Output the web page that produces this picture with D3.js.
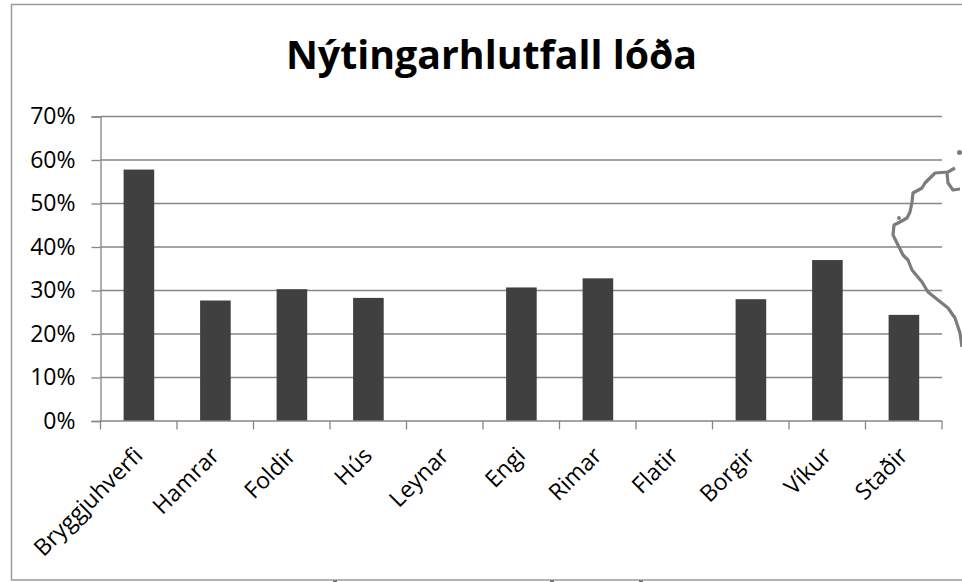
<!DOCTYPE html>
<html>
<head>
<meta charset="utf-8">
<script src="https://cdn.jsdelivr.net/npm/d3@7"></script>
<style>
html, body { margin: 0; padding: 0; background: #fff; overflow: hidden; }
text { font-family: "Open Sans", sans-serif; fill: #000; }
</style>
</head>
<body>
<svg id="chart" width="962" height="582"></svg>
<script>
var categories = ['Bryggjuhverfi', 'Hamrar', 'Foldir', 'Hús', 'Leynar', 'Engi', 'Rimar', 'Flatir', 'Borgir', 'Víkur', 'Staðir']
var values = [0.578, 0.277, 0.303, 0.283, 0, 0.307, 0.328, 0, 0.28, 0.37, 0.244]
var yTicks = [0, 0.1, 0.2, 0.3, 0.4, 0.5, 0.6, 0.7]
var title = 'Nýtingarhlutfall lóða'

// stray map outline showing through on the right of the original, in page pixels
var coast = [[955, 168], [948, 172], [935, 173], [930, 178], [925, 183], [922, 188], [913, 193], [912, 202],
    [910, 212], [907, 218], [900, 222], [894, 225], [893, 235], [898, 245], [903, 255], [908, 260], [912, 270],
    [922, 282], [928, 292], [938, 300], [948, 308], [955, 318], [960, 333], [962, 347]]
var coast2 = [[947, 173], [948, 183], [953, 190], [960, 189]]
// clipped bits of text under the frame
var strayBits = [333, 550, 639]

var grey = '#868686'
var svg = d3.select('#chart')

var x = d3.scaleBand().domain(categories).range([100.5, 942])
var y = d3.scaleLinear().domain([0, 0.7]).range([421, 116.5])

// chart frame, runs off the right edge
svg.append('rect').attr('x', 11.5).attr('y', 4.5).attr('width', 980).attr('height', 575.5)
    .style('fill', '#fff').style('stroke', '#9a9a9a').style('stroke-width', 1.5)

svg.append('text').attr('x', 491.5).attr('y', 68.5).attr('text-anchor', 'middle')
    .style('font-size', '39.3px').style('font-weight', 'bold').text(title)

// gridlines
svg.append('g').selectAll('line').data(yTicks.slice(1)).enter().append('line')
    .attr('x1', 100.5).attr('x2', 942)
    .attr('y1', d => y(d)).attr('y2', d => y(d))
    .style('stroke', grey).style('stroke-width', 1.3)

var yAxis = svg.append('g').attr('transform', 'translate(100.5,0)')
    .call(d3.axisLeft(y).tickValues(yTicks).tickFormat(d3.format('.0%')).tickSize(9).tickPadding(16))
yAxis.select('.domain').style('stroke', grey).style('stroke-width', 1.3)
yAxis.selectAll('.tick line').style('stroke', grey).style('stroke-width', 1.3)
yAxis.selectAll('text').style('font-size', '23px').style('font-family', '"Open Sans", sans-serif').style('fill', '#000')

svg.append('g').selectAll('rect').data(values).enter().append('rect')
    .attr('x', (d, i) => x(categories[i]) + x.bandwidth() * 0.302)
    .attr('width', x.bandwidth() * 0.4)
    .attr('y', d => y(d))
    .attr('height', d => y(0) - y(d))
    .style('fill', '#404040')

// x axis: ticks sit on band edges, so drawn from the band scale
var xEdges = categories.map(c => x(c)).concat([x.range()[1]])
svg.append('g').selectAll('line').data(xEdges).enter().append('line')
    .attr('x1', d => d).attr('x2', d => d).attr('y1', y(0)).attr('y2', y(0) + 8.5)
    .style('stroke', grey).style('stroke-width', 1.3)
svg.append('line').attr('x1', 100.5).attr('x2', 942).attr('y1', y(0)).attr('y2', y(0))
    .style('stroke', grey).style('stroke-width', 1.3)

svg.append('g').selectAll('text').data(categories).enter().append('text')
    .attr('transform', d => `translate(${x(d) + x.bandwidth() * 0.57},${y(0) + 36}) rotate(-45)`)
    .attr('text-anchor', 'end')
    .style('font-size', '23px')
    .text(d => d)

var coastLine = d3.line()
svg.append('g').selectAll('path').data([coast, coast2]).enter().append('path')
    .attr('d', d => coastLine(d))
    .style('fill', 'none').style('stroke', '#7c7c7c').style('stroke-width', 3.2)
    .style('stroke-linejoin', 'round')
svg.append('circle').attr('cx', 959.5).attr('cy', 152.5).attr('r', 2.5).style('fill', '#7c7c7c')
svg.append('circle').attr('cx', 899).attr('cy', 218).attr('r', 2).style('fill', '#7c7c7c')

svg.append('g').selectAll('rect').data(strayBits).enter().append('rect')
    .attr('x', d => d).attr('y', 580.5).attr('width', 4).attr('height', 1.5).style('fill', '#666')
</script>
</body>
</html>
